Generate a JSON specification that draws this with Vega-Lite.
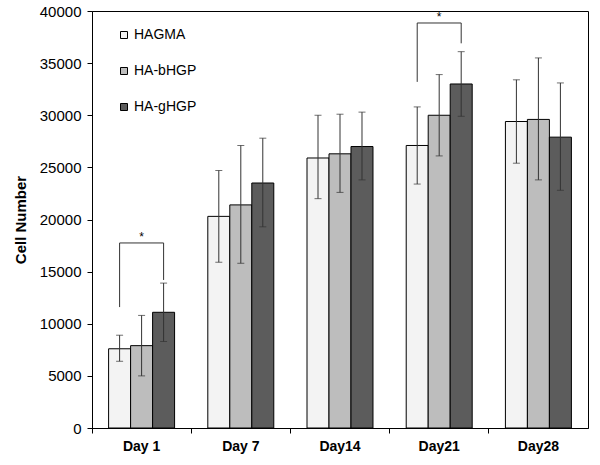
{
  "$schema": "https://vega.github.io/schema/vega-lite/v6.json",
  "autosize": "none",
  "width": 496,
  "height": 417,
  "padding": {"left": 92, "top": 11, "right": 12, "bottom": 37},
  "background": "white",
  "config": {
    "font": "Liberation Sans",
    "view": {"stroke": "#000", "strokeWidth": 1}
  },
  "data": {
    "values": [
      {"day": "Day 1", "group": "HAGMA", "value": 7600, "lo": 6400, "hi": 8900},
      {"day": "Day 1", "group": "HA-bHGP", "value": 7900, "lo": 5000, "hi": 10800},
      {"day": "Day 1", "group": "HA-gHGP", "value": 11100, "lo": 8300, "hi": 13900},
      {"day": "Day 7", "group": "HAGMA", "value": 20300, "lo": 15900, "hi": 24700},
      {"day": "Day 7", "group": "HA-bHGP", "value": 21400, "lo": 15800, "hi": 27100},
      {"day": "Day 7", "group": "HA-gHGP", "value": 23500, "lo": 19300, "hi": 27800},
      {"day": "Day14", "group": "HAGMA", "value": 25900, "lo": 22000, "hi": 30000},
      {"day": "Day14", "group": "HA-bHGP", "value": 26300, "lo": 22600, "hi": 30100},
      {"day": "Day14", "group": "HA-gHGP", "value": 27000, "lo": 23800, "hi": 30300},
      {"day": "Day21", "group": "HAGMA", "value": 27100, "lo": 23400, "hi": 30800},
      {"day": "Day21", "group": "HA-bHGP", "value": 30000, "lo": 26100, "hi": 33900},
      {"day": "Day21", "group": "HA-gHGP", "value": 33000, "lo": 29900, "hi": 36100},
      {"day": "Day28", "group": "HAGMA", "value": 29400, "lo": 25400, "hi": 33400},
      {"day": "Day28", "group": "HA-bHGP", "value": 29600, "lo": 23800, "hi": 35500},
      {"day": "Day28", "group": "HA-gHGP", "value": 27900, "lo": 22800, "hi": 33100}
    ]
  },
  "encoding": {
    "x": {
      "field": "day",
      "type": "nominal",
      "sort": ["Day 1", "Day 7", "Day14", "Day21", "Day28"],
      "scale": {"paddingInner": 0, "paddingOuter": 0},
      "axis": {
        "title": null,
        "labelAngle": 0,
        "bandPosition": 0,
        "labelFont": "Liberation Sans",
        "labelFontSize": 14,
        "labelFontWeight": "bold",
        "labelColor": "#000",
        "labelPadding": 6,
        "tickSize": 5,
        "tickColor": "#000",
        "domainColor": "#000"
      }
    },
    "xOffset": {
      "field": "group",
      "type": "nominal",
      "scale": {"domain": ["HAGMA", "HA-bHGP", "HA-gHGP"], "paddingInner": 0, "paddingOuter": 0.755}
    }
  },
  "layer": [
    {
      "mark": {"type": "bar", "stroke": "#000", "strokeWidth": 1},
      "encoding": {
        "y": {
          "field": "value",
          "type": "quantitative",
          "scale": {"domain": [0, 40000], "nice": false},
          "axis": {
            "title": "Cell Number",
            "titleFont": "Liberation Sans",
            "titleFontSize": 15,
            "titleFontWeight": "bold",
            "titleColor": "#000",
            "titlePadding": 11,
            "values": [0, 5000, 10000, 15000, 20000, 25000, 30000, 35000, 40000],
            "format": "d",
            "grid": false,
            "labelFont": "Liberation Sans",
            "labelFontSize": 15,
            "labelColor": "#000",
            "labelPadding": 6,
            "tickSize": 5,
            "tickColor": "#000",
            "domainColor": "#000"
          }
        },
        "fill": {
          "field": "group",
          "type": "nominal",
          "scale": {"domain": ["HAGMA", "HA-bHGP", "HA-gHGP"], "range": ["#f3f3f3", "#bdbdbd", "#5c5c5c"]},
          "legend": {
            "title": null,
            "orient": "none",
            "legendX": 25,
            "legendY": 17,
            "symbolType": "square",
            "symbolSize": 49,
            "symbolStrokeColor": "#000",
            "symbolStrokeWidth": 1,
            "labelFont": "Liberation Sans",
            "labelFontSize": 14,
            "labelColor": "#000",
            "labelOffset": 3,
            "rowPadding": 22
          }
        }
      }
    },
    {
      "mark": {"type": "rule", "color": "#333", "strokeWidth": 1},
      "encoding": {
        "y": {"field": "lo", "type": "quantitative"},
        "y2": {"field": "hi"}
      }
    },
    {
      "mark": {"type": "tick", "color": "#333", "size": 7, "thickness": 1},
      "encoding": {"y": {"field": "lo", "type": "quantitative"}}
    },
    {
      "mark": {"type": "tick", "color": "#333", "size": 7, "thickness": 1},
      "encoding": {"y": {"field": "hi", "type": "quantitative"}}
    },
    {
      "data": {
        "values": [
          {"bracket": "a", "seq": 1, "day": "Day 1", "group": "HAGMA", "y": 11600},
          {"bracket": "a", "seq": 2, "day": "Day 1", "group": "HAGMA", "y": 17750},
          {"bracket": "a", "seq": 3, "day": "Day 1", "group": "HA-gHGP", "y": 17750},
          {"bracket": "a", "seq": 4, "day": "Day 1", "group": "HA-gHGP", "y": 14200},
          {"bracket": "b", "seq": 1, "day": "Day21", "group": "HAGMA", "y": 33200},
          {"bracket": "b", "seq": 2, "day": "Day21", "group": "HAGMA", "y": 38850},
          {"bracket": "b", "seq": 3, "day": "Day21", "group": "HA-gHGP", "y": 38850},
          {"bracket": "b", "seq": 4, "day": "Day21", "group": "HA-gHGP", "y": 36900}
        ]
      },
      "mark": {"type": "line", "color": "#333", "strokeWidth": 1},
      "encoding": {
        "y": {"field": "y", "type": "quantitative"},
        "detail": {"field": "bracket"},
        "order": {"field": "seq", "type": "quantitative"}
      }
    },
    {
      "data": {
        "values": [
          {"day": "Day 1", "group": "HA-bHGP", "y": 18300, "label": "*"},
          {"day": "Day21", "group": "HA-bHGP", "y": 39400, "label": "*"}
        ]
      },
      "mark": {"type": "text", "font": "Liberation Sans", "fontSize": 12, "color": "#000", "baseline": "middle"},
      "encoding": {
        "y": {"field": "y", "type": "quantitative"},
        "text": {"field": "label"}
      }
    }
  ]
}
